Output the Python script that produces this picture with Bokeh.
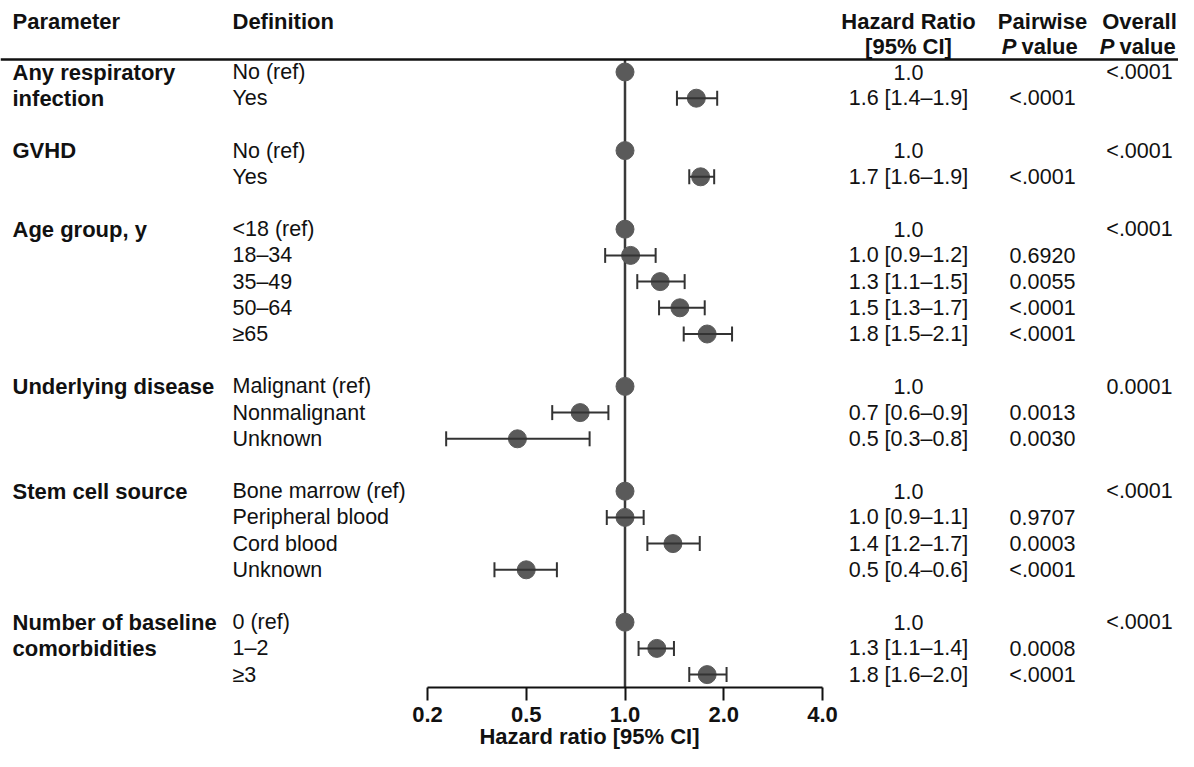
from bokeh.plotting import figure
from bokeh.models import (ColumnDataSource, Range1d, FixedTicker, Span, Whisker, TeeHead)
from bokeh.core.properties import value
from bokeh.embed import file_html
from bokeh.resources import INLINE

# ---------------- data ----------------
PARAM_LINES = [["Any respiratory", "infection"], ["GVHD"], ["Age group, y"],
               ["Underlying disease"], ["Stem cell source"],
               ["Number of baseline", "comorbidities"]]
DEFINITIONS = [["No (ref)", "Yes"],
               ["No (ref)", "Yes"],
               ["<18 (ref)", "18–34", "35–49", "50–64", "≥65"],
               ["Malignant (ref)", "Nonmalignant", "Unknown"],
               ["Bone marrow (ref)", "Peripheral blood", "Cord blood", "Unknown"],
               ["0 (ref)", "1–2", "≥3"]]
HR = [[1.0, 1.65], [1.0, 1.70], [1.0, 1.04, 1.28, 1.47, 1.78],
      [1.0, 0.73, 0.47], [1.0, 1.0, 1.40, 0.50], [1.0, 1.25, 1.78]]
LO = [[None, 1.44], [None, 1.57], [None, 0.87, 1.09, 1.27, 1.51],
      [None, 0.60, 0.285], [None, 0.88, 1.17, 0.40], [None, 1.10, 1.57]]
HI = [[None, 1.91], [None, 1.87], [None, 1.24, 1.52, 1.75, 2.12],
      [None, 0.89, 0.78], [None, 1.14, 1.69, 0.62], [None, 1.41, 2.04]]
HR_LABEL = [["1.0", "1.6 [1.4–1.9]"], ["1.0", "1.7 [1.6–1.9]"],
            ["1.0", "1.0 [0.9–1.2]", "1.3 [1.1–1.5]", "1.5 [1.3–1.7]", "1.8 [1.5–2.1]"],
            ["1.0", "0.7 [0.6–0.9]", "0.5 [0.3–0.8]"],
            ["1.0", "1.0 [0.9–1.1]", "1.4 [1.2–1.7]", "0.5 [0.4–0.6]"],
            ["1.0", "1.3 [1.1–1.4]", "1.8 [1.6–2.0]"]]
PAIRWISE_P = [["", "<.0001"], ["", "<.0001"],
              ["", "0.6920", "0.0055", "<.0001", "<.0001"],
              ["", "0.0013", "0.0030"],
              ["", "0.9707", "0.0003", "<.0001"],
              ["", "0.0008", "<.0001"]]
OVERALL_P = ["<.0001", "<.0001", "<.0001", "0.0001", "<.0001", "<.0001"]
REF_HR = 1.0
TICKS = [0.25, 0.5, 1.0, 2.0, 4.0]
TICK_LABELS = ["0.2", "0.5", "1.0", "2.0", "4.0"]
X_TITLE = "Hazard ratio [95% CI]"

# ---------------- layout helpers ----------------
W, H = 1178, 751
PX_PER_DOUBLING = 98.75
PX_AT_ONE = 624.5              # canvas px of HR = 1


def px2x(px):
    return 2 ** ((px - PX_AT_ONE) / PX_PER_DOUBLING)


X_START = px2x(0)
X_END = px2x(W)
ROW0_PX, ROW_H = 71.5, 26.2
FRAME_BOTTOM_PX = 687


def px2row(py):
    return (py - ROW0_PX) / ROW_H


Y_TOP = px2row(0)
Y_BOT = px2row(FRAME_BOTTOM_PX)

# column anchors (canvas px)
C_PARAM, C_DEF, C_HR, C_PW, C_OV = 12, 232, 908, 1042, 1139

# flatten rows, one blank row between groups
param_rows = dict(x=[], y=[], t=[])
def_rows = dict(x=[], y=[], t=[])
hrl_rows = dict(x=[], y=[], t=[])
pw_rows = dict(x=[], y=[], t=[])
ov_rows = dict(x=[], y=[], t=[])
pt = dict(x=[], y=[])
ci = dict(y=[], lo=[], hi=[])

row = 0
for g in range(len(DEFINITIONS)):
    for k, line in enumerate(PARAM_LINES[g]):
        param_rows["x"].append(px2x(C_PARAM)); param_rows["y"].append(row + k); param_rows["t"].append(line)
    ov_rows["x"].append(px2x(C_OV)); ov_rows["y"].append(row); ov_rows["t"].append(OVERALL_P[g])
    for j, d in enumerate(DEFINITIONS[g]):
        r = row + j
        def_rows["x"].append(px2x(C_DEF)); def_rows["y"].append(r); def_rows["t"].append(d)
        hrl_rows["x"].append(px2x(C_HR)); hrl_rows["y"].append(r); hrl_rows["t"].append(HR_LABEL[g][j])
        pw_rows["x"].append(px2x(C_PW)); pw_rows["y"].append(r); pw_rows["t"].append(PAIRWISE_P[g][j])
        pt["x"].append(HR[g][j]); pt["y"].append(r)
        if LO[g][j] is not None:
            ci["y"].append(r); ci["lo"].append(LO[g][j]); ci["hi"].append(HI[g][j])
    row += len(DEFINITIONS[g]) + 1

# ---------------- figure ----------------
p = figure(width=W, height=H, x_axis_type="log",
           x_range=Range1d(X_START, X_END), y_range=Range1d(Y_BOT, Y_TOP),
           output_backend="svg", toolbar_location=None, y_axis_location=None,
           min_border_left=0, min_border_right=0, min_border_top=0,
           min_border_bottom=H - FRAME_BOTTOM_PX,
           outline_line_color=None, background_fill_color="white", border_fill_color="white")
p.xgrid.visible = False
p.ygrid.visible = False

FONT = value("Liberation Sans")
REG = "21.5px"
BOLD = "22px"
TXT = "#111111"

# header line
p.add_layout(Span(location=px2row(59), dimension="width", line_color="#111111", line_width=2.5))

# reference line at HR = 1
p.segment(x0=[REF_HR], y0=[px2row(59)], x1=[REF_HR], y1=[Y_BOT],
          line_color="#3a3a3a", line_width=2.5)

# confidence intervals
ci_src = ColumnDataSource(ci)
wh = Whisker(source=ci_src, base="y", lower="lo", upper="hi", dimension="width",
             line_color="#333333", line_width=2, level="glyph",
             upper_head=TeeHead(size=15, line_color="#333333", line_width=2),
             lower_head=TeeHead(size=15, line_color="#333333", line_width=2))
p.add_layout(wh)

# points
p.scatter(x="x", y="y", source=ColumnDataSource(pt), size=18,
          fill_color="#5a5a5a", line_color="#5a5a5a")

# table texts
p.text(x="x", y="y", text="t", source=ColumnDataSource(param_rows), text_font=FONT,
       text_font_size=BOLD, text_font_style="bold", text_align="left",
       text_baseline="middle", text_color=TXT)
p.text(x="x", y="y", text="t", source=ColumnDataSource(def_rows), text_font=FONT,
       text_font_size=REG, text_align="left", text_baseline="middle", text_color=TXT)
p.text(x="x", y="y", text="t", source=ColumnDataSource(hrl_rows), text_font=FONT,
       text_font_size=REG, text_align="center", text_baseline="middle", text_color=TXT)
p.text(x="x", y="y", text="t", source=ColumnDataSource(pw_rows), text_font=FONT,
       text_font_size=REG, text_align="center", text_baseline="middle", text_color=TXT)
p.text(x="x", y="y", text="t", source=ColumnDataSource(ov_rows), text_font=FONT,
       text_font_size=REG, text_align="center", text_baseline="middle", text_color=TXT)

# header texts
h1, h2 = px2row(21), px2row(46)
hdr = dict(
    x=[px2x(C_PARAM), px2x(C_DEF), px2x(C_HR), px2x(C_PW), px2x(C_OV), px2x(C_HR)],
    y=[h1, h1, h1, h1, h1, h2],
    t=["Parameter", "Definition", "Hazard Ratio", "Pairwise", "Overall", "[95% CI]"],
    a=["left", "left", "center", "center", "center", "center"])
p.text(x="x", y="y", text="t", text_align="a", source=ColumnDataSource(hdr), text_font=FONT,
       text_font_size=BOLD, text_font_style="bold", text_baseline="middle", text_color=TXT)
p.text(x=[px2x(C_PW - 26), px2x(C_OV - 25)], y=[h2, h2], text=["P", "P"], text_font=FONT,
       text_font_size=BOLD, text_font_style="bold italic", text_align="right",
       text_baseline="middle", text_color=TXT)
p.text(x=[px2x(C_PW - 21), px2x(C_OV - 20)], y=[h2, h2], text=["value", "value"], text_font=FONT,
       text_font_size=BOLD, text_font_style="bold", text_align="left",
       text_baseline="middle", text_color=TXT)

# x axis
ax = p.xaxis[0]
ax.ticker = FixedTicker(ticks=TICKS)
ax.bounds = (TICKS[0], TICKS[-1])
ax.major_label_overrides = {t: l for t, l in zip(TICKS, TICK_LABELS)}
ax.minor_tick_line_color = None
ax.major_tick_in = 0
ax.major_tick_out = 13
ax.major_tick_line_width = 2
ax.major_tick_line_color = "#111111"
ax.axis_line_width = 2
ax.axis_line_color = "#111111"
ax.major_label_standoff = 6
ax.major_label_text_font = "Liberation Sans"
ax.major_label_text_font_style = "bold"
ax.major_label_text_font_size = BOLD
ax.major_label_text_color = TXT
ax.axis_label = X_TITLE
ax.axis_label_standoff = -1
ax.axis_label_text_font = "Liberation Sans"
ax.axis_label_text_font_style = "bold"
ax.axis_label_text_font_size = BOLD
ax.axis_label_text_color = TXT

open("out.html", "w").write(file_html(p, INLINE))
